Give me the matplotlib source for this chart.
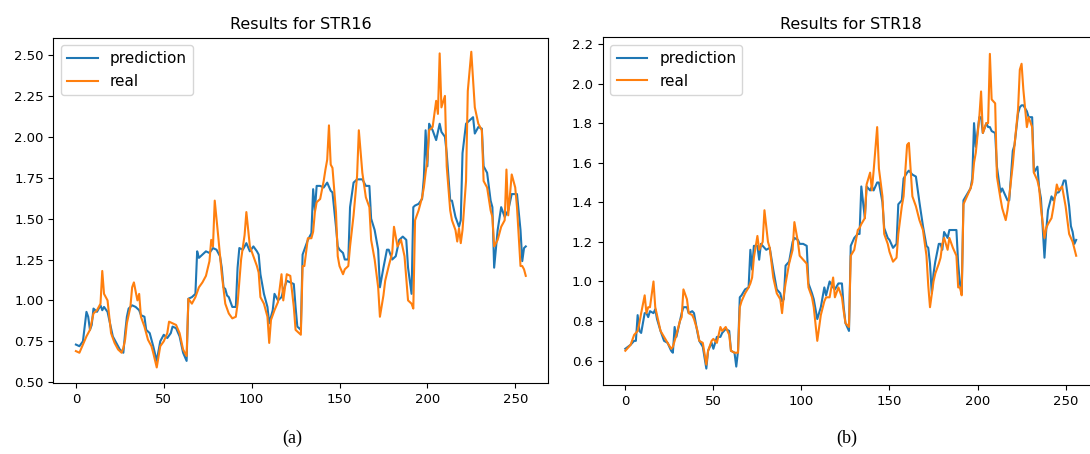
import matplotlib
matplotlib.use("Agg")
import matplotlib.pyplot as plt

# -------------------------------------------------
# DATA (index -> value)
# -------------------------------------------------
str16_pred_idx = [0, 2, 4, 6, 7, 8, 9, 10, 12, 14, 15, 16, 18, 19, 21, 23, 25, 27, 28, 29,
                  30, 32, 34, 36, 37, 39, 40, 42, 44, 46, 48, 50, 52, 54, 55, 57, 59, 61, 63, 64,
                  66, 68, 69, 70, 72, 74, 76, 78, 80, 82, 83, 84, 85, 86, 87, 89, 91, 92, 93, 95,
                  97, 99, 101, 103, 104, 105, 107, 109, 110, 112, 113, 115, 117, 118, 120, 122, 124, 125, 126, 128,
                  129, 130, 132, 134, 135, 136, 137, 139, 141, 143, 145, 146, 148, 149, 150, 152, 153, 155, 156, 158,
                  160, 163, 165, 167, 168, 170, 172, 173, 175, 177, 178, 180, 182, 184, 186, 188, 189, 191, 192, 193,
                  195, 197, 198, 199, 200, 201, 203, 205, 207, 208, 210, 211, 213, 214, 216, 218, 219, 220, 222, 224,
                  226, 227, 229, 231, 232, 234, 236, 237, 238, 240, 242, 244, 246, 248, 250, 251, 253, 254, 255, 256]
str16_pred = [0.73, 0.72, 0.75, 0.93, 0.90, 0.82, 0.85, 0.95, 0.93, 0.97, 0.94, 0.96, 0.93, 0.88, 0.78, 0.74, 0.70, 0.68, 0.80, 0.90,
              0.95, 0.97, 0.96, 0.94, 0.91, 0.90, 0.82, 0.80, 0.72, 0.63, 0.75, 0.79, 0.77, 0.80, 0.84, 0.83, 0.78, 0.68, 0.63, 1.01,
              1.02, 1.04, 1.30, 1.26, 1.28, 1.30, 1.29, 1.32, 1.31, 1.27, 1.20, 1.08, 1.07, 1.03, 1.02, 0.96, 0.96, 1.20, 1.32, 1.31,
              1.35, 1.30, 1.33, 1.30, 1.28, 1.16, 1.04, 0.96, 0.86, 0.94, 1.04, 1.00, 1.02, 1.06, 1.12, 1.11, 1.10, 0.96, 0.84, 0.82,
              1.28, 1.31, 1.37, 1.41, 1.68, 1.55, 1.70, 1.70, 1.69, 1.72, 1.67, 1.66, 1.45, 1.33, 1.31, 1.29, 1.25, 1.25, 1.57, 1.72,
              1.74, 1.74, 1.70, 1.70, 1.50, 1.43, 1.31, 1.08, 1.20, 1.31, 1.31, 1.25, 1.27, 1.37, 1.39, 1.37, 1.20, 1.04, 1.57, 1.58,
              1.59, 1.62, 1.75, 2.04, 1.82, 2.08, 2.04, 1.98, 2.08, 2.03, 2.00, 1.90, 1.61, 1.61, 1.51, 1.45, 1.49, 1.90, 2.08, 2.10,
              2.12, 2.02, 2.06, 2.05, 1.82, 1.78, 1.61, 1.57, 1.20, 1.43, 1.57, 1.51, 1.55, 1.65, 1.65, 1.65, 1.43, 1.24, 1.32, 1.33]

str16_real_idx = [0, 2, 4, 6, 8, 10, 12, 14, 15, 16, 18, 19, 20, 22, 24, 26, 27, 28, 29, 31,
                  32, 33, 35, 36, 37, 39, 41, 43, 44, 46, 48, 50, 52, 53, 55, 57, 59, 61, 63, 64,
                  66, 68, 70, 72, 74, 76, 77, 78, 79, 81, 83, 85, 87, 89, 91, 92, 94, 96, 97, 99,
                  101, 103, 104, 105, 107, 109, 110, 111, 113, 115, 117, 118, 120, 122, 124, 125, 127, 128, 129, 130,
                  132, 134, 135, 136, 137, 139, 141, 142, 143, 144, 145, 146, 148, 149, 150, 152, 153, 155, 156, 158,
                  160, 161, 163, 165, 167, 168, 170, 172, 173, 175, 176, 178, 180, 181, 183, 185, 187, 189, 191, 192,
                  193, 195, 197, 198, 199, 200, 201, 203, 205, 206, 207, 208, 210, 211, 213, 214, 216, 217, 218, 219,
                  220, 222, 223, 225, 227, 229, 231, 232, 234, 236, 237, 238, 240, 242, 244, 245, 246, 248, 250, 251,
                  253, 254, 255, 256]
str16_real = [0.69, 0.68, 0.73, 0.78, 0.82, 0.92, 0.94, 0.98, 1.18, 1.04, 1.00, 0.90, 0.80, 0.74, 0.70, 0.68, 0.71, 0.76, 0.86, 0.96,
              1.08, 1.11, 1.00, 1.04, 0.90, 0.84, 0.76, 0.72, 0.68, 0.59, 0.72, 0.75, 0.80, 0.87, 0.86, 0.85, 0.80, 0.70, 0.66, 1.01,
              0.98, 1.02, 1.08, 1.11, 1.15, 1.24, 1.37, 1.33, 1.61, 1.39, 1.16, 0.98, 0.92, 0.89, 0.90, 0.98, 1.25, 1.40, 1.54, 1.33,
              1.27, 1.21, 1.17, 1.02, 0.98, 0.90, 0.74, 0.88, 0.94, 0.99, 1.16, 1.00, 1.16, 1.15, 0.96, 0.82, 0.80, 0.79, 1.21, 1.21,
              1.38, 1.38, 1.42, 1.54, 1.60, 1.62, 1.73, 1.80, 1.86, 2.07, 1.83, 1.81, 1.54, 1.27, 1.21, 1.16, 1.19, 1.21, 1.33, 1.52,
              1.76, 2.04, 1.78, 1.63, 1.57, 1.37, 1.25, 1.08, 0.90, 1.03, 1.12, 1.21, 1.29, 1.45, 1.33, 1.37, 1.27, 1.00, 0.98, 0.95,
              1.49, 1.55, 1.63, 1.69, 1.78, 1.86, 2.04, 2.06, 2.22, 2.14, 2.51, 2.18, 2.25, 1.82, 1.55, 1.49, 1.43, 1.36, 1.44, 1.35,
              1.43, 1.73, 2.28, 2.52, 2.18, 2.08, 2.04, 1.73, 1.69, 1.55, 1.51, 1.33, 1.37, 1.45, 1.49, 1.80, 1.52, 1.77, 1.69, 1.57,
              1.21, 1.21, 1.19, 1.15]

str18_pred_idx = [0, 3, 5, 6, 7, 8, 9, 11, 12, 13, 14, 16, 17, 18, 20, 22, 24, 26, 27, 28,
                  29, 31, 32, 33, 35, 36, 38, 39, 41, 42, 44, 46, 47, 49, 50, 52, 54, 55, 57, 59,
                  60, 62, 63, 64, 65, 66, 68, 70, 71, 72, 73, 75, 76, 77, 79, 80, 82, 84, 86, 88,
                  89, 90, 91, 93, 95, 96, 98, 99, 101, 103, 104, 106, 107, 109, 111, 113, 114, 116, 118, 119,
                  121, 123, 124, 125, 127, 128, 130, 132, 133, 134, 136, 137, 139, 140, 141, 143, 144, 146, 147, 149,
                  150, 152, 154, 155, 157, 158, 160, 161, 163, 165, 167, 169, 171, 172, 173, 174, 175, 176, 178, 179,
                  180, 181, 183, 184, 186, 188, 189, 190, 191, 192, 194, 196, 197, 198, 199, 201, 202, 203, 205, 206,
                  207, 208, 210, 211, 213, 214, 216, 217, 218, 220, 221, 223, 224, 225, 226, 228, 229, 231, 232, 234,
                  235, 236, 238, 239, 240, 242, 243, 245, 246, 248, 249, 250, 252, 253, 254, 255, 256]
str18_pred = [0.66, 0.68, 0.70, 0.70, 0.83, 0.75, 0.74, 0.84, 0.84, 0.82, 0.85, 0.84, 0.86, 0.81, 0.75, 0.70, 0.69, 0.65, 0.64, 0.77,
              0.72, 0.80, 0.84, 0.87, 0.87, 0.84, 0.85, 0.84, 0.74, 0.70, 0.67, 0.56, 0.65, 0.69, 0.66, 0.72, 0.72, 0.74, 0.76, 0.75,
              0.65, 0.64, 0.57, 0.65, 0.92, 0.93, 0.96, 0.97, 1.16, 1.06, 1.18, 1.18, 1.11, 1.19, 1.17, 1.16, 1.17, 1.06, 0.96, 0.94,
              0.90, 0.91, 1.08, 1.10, 1.20, 1.22, 1.21, 1.19, 1.19, 1.18, 0.99, 0.94, 0.91, 0.81, 0.87, 0.97, 0.93, 1.00, 0.97, 0.96,
              0.99, 0.99, 0.87, 0.79, 0.75, 1.18, 1.22, 1.24, 1.24, 1.48, 1.32, 1.48, 1.46, 1.48, 1.46, 1.50, 1.50, 1.40, 1.27, 1.22,
              1.21, 1.17, 1.19, 1.39, 1.41, 1.52, 1.55, 1.56, 1.54, 1.53, 1.40, 1.28, 1.18, 1.17, 1.09, 0.94, 1.04, 1.10, 1.19, 1.19,
              1.16, 1.25, 1.22, 1.26, 1.26, 1.26, 1.09, 0.99, 0.94, 1.41, 1.44, 1.47, 1.52, 1.80, 1.68, 1.83, 1.83, 1.75, 1.80, 1.78,
              1.78, 1.76, 1.75, 1.58, 1.45, 1.47, 1.43, 1.41, 1.41, 1.66, 1.69, 1.85, 1.88, 1.89, 1.89, 1.86, 1.83, 1.83, 1.55, 1.58,
              1.47, 1.42, 1.12, 1.26, 1.36, 1.43, 1.41, 1.45, 1.45, 1.48, 1.51, 1.51, 1.38, 1.28, 1.25, 1.19, 1.21]

str18_real_idx = [0, 3, 5, 7, 8, 9, 11, 12, 13, 14, 16, 17, 18, 20, 22, 24, 26, 27, 28, 29,
                  31, 32, 33, 35, 36, 38, 39, 41, 42, 44, 46, 47, 49, 50, 52, 54, 55, 57, 59, 60,
                  62, 63, 64, 65, 66, 68, 70, 71, 72, 73, 75, 76, 78, 79, 81, 82, 84, 86, 88, 89,
                  90, 91, 93, 95, 96, 98, 99, 101, 103, 104, 106, 107, 109, 111, 113, 114, 116, 118, 119, 121,
                  123, 124, 125, 127, 128, 130, 132, 133, 134, 136, 137, 139, 140, 141, 143, 144, 146, 147, 149, 150,
                  152, 154, 155, 157, 158, 160, 161, 163, 165, 167, 169, 171, 172, 173, 175, 176, 178, 179, 180, 181,
                  183, 184, 186, 188, 189, 190, 191, 192, 194, 196, 197, 198, 199, 201, 202, 203, 205, 206, 207, 208,
                  210, 211, 213, 214, 216, 217, 218, 220, 221, 223, 224, 225, 226, 228, 229, 231, 232, 234, 235, 236,
                  238, 239, 240, 242, 243, 245, 246, 248, 249, 250, 252, 253, 254, 256]
str18_real = [0.65, 0.68, 0.73, 0.75, 0.79, 0.84, 0.93, 0.84, 0.87, 0.87, 1.00, 0.87, 0.83, 0.75, 0.72, 0.69, 0.66, 0.67, 0.70, 0.73,
              0.80, 0.82, 0.96, 0.91, 0.84, 0.83, 0.81, 0.75, 0.70, 0.69, 0.58, 0.65, 0.70, 0.71, 0.69, 0.77, 0.75, 0.77, 0.73, 0.65,
              0.64, 0.64, 0.64, 0.87, 0.90, 0.94, 0.97, 0.99, 1.02, 1.12, 1.23, 1.16, 1.20, 1.36, 1.20, 1.17, 1.02, 0.94, 0.91, 0.84,
              0.93, 0.99, 1.09, 1.16, 1.30, 1.20, 1.13, 1.11, 1.09, 0.97, 0.92, 0.87, 0.70, 0.83, 0.90, 0.92, 0.92, 1.02, 0.92, 0.97,
              0.92, 0.85, 0.79, 0.77, 1.13, 1.16, 1.26, 1.27, 1.29, 1.32, 1.49, 1.55, 1.46, 1.56, 1.78, 1.57, 1.43, 1.24, 1.19, 1.15,
              1.10, 1.12, 1.24, 1.38, 1.43, 1.69, 1.70, 1.43, 1.38, 1.31, 1.26, 1.13, 0.98, 0.87, 1.00, 1.04, 1.09, 1.12, 1.19, 1.22,
              1.16, 1.22, 1.17, 1.13, 0.97, 0.97, 0.93, 1.39, 1.43, 1.47, 1.50, 1.60, 1.65, 1.83, 1.96, 1.75, 1.80, 1.80, 2.15, 1.92,
              1.90, 1.53, 1.42, 1.37, 1.31, 1.36, 1.43, 1.59, 1.69, 1.87, 2.07, 2.10, 1.97, 1.78, 1.83, 1.78, 1.55, 1.51, 1.47, 1.37,
              1.22, 1.27, 1.29, 1.32, 1.37, 1.49, 1.46, 1.48, 1.43, 1.38, 1.24, 1.22, 1.20, 1.13]

titles = ["Results for STR16", "Results for STR18"]
captions = ["(a)", "(b)"]

# -------------------------------------------------
# FIGURE
# -------------------------------------------------
fig = plt.figure(figsize=(10.9, 4.54), dpi=100)
ax1 = fig.add_axes([0.049, 0.156, 0.454, 0.761])
ax2 = fig.add_axes([0.553, 0.152, 0.455, 0.766])

panels = [
    (ax1, str16_pred_idx, str16_pred, str16_real_idx, str16_real, (0.494, 2.606)),
    (ax2, str18_pred_idx, str18_pred, str18_real_idx, str18_real, (0.477, 2.234)),
]

for k, (ax, pi, pv, ri, rv, ylim) in enumerate(panels):
    ax.plot(pi, pv, color="#1f77b4", lw=1.5, label="prediction")
    ax.plot(ri, rv, color="#ff7f0e", lw=1.5, label="real")
    ax.set_xlim(-12.8, 268.8)
    ax.set_ylim(*ylim)
    ax.set_xticks([0, 50, 100, 150, 200, 250])
    ax.set_title(titles[k], fontsize=11.5)
    ax.tick_params(labelsize=9.5)
    ax.legend(loc="upper left", fontsize=11)

ax2.set_yticks([0.6, 0.8, 1.0, 1.2, 1.4, 1.6, 1.8, 2.0, 2.2])

fig.text(0.268, 0.025, captions[0], family="Liberation Serif", fontsize=13, ha="center")
fig.text(0.777, 0.025, captions[1], family="Liberation Serif", fontsize=13, ha="center")

fig.savefig("out.png", dpi=100)
